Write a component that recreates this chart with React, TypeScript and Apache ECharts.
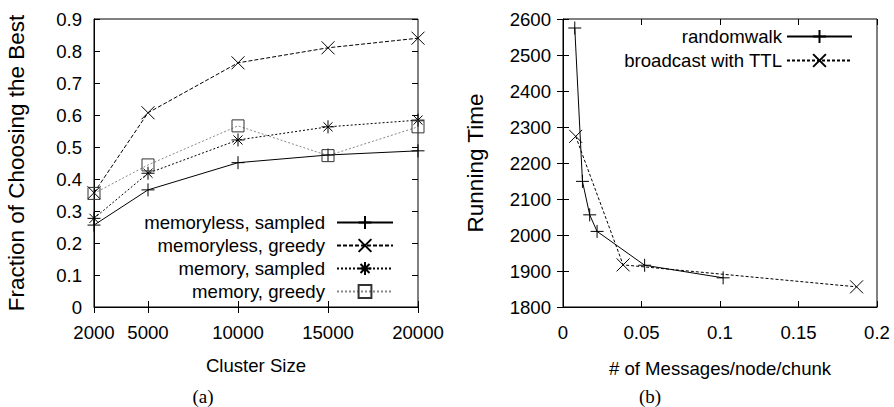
import React, { useEffect, useRef } from "react";
import * as echarts from "echarts";

// ---- data ----
const clusterSizes = [2000, 5000, 10000, 15000, 20000];
const memorylessSampled = [0.256, 0.366, 0.451, 0.475, 0.488];
const memorylessGreedy = [0.357, 0.607, 0.763, 0.81, 0.84];
const memorySampled = [0.277, 0.418, 0.522, 0.563, 0.584];
const memoryGreedy = [0.355, 0.444, 0.566, 0.473, 0.563];

const randomwalkX = [0.0075, 0.0124, 0.017, 0.0217, 0.052, 0.102];
const randomwalkY = [2575, 2149, 2056, 2010, 1916, 1881];
const broadcastX = [0.0081, 0.0383, 0.187];
const broadcastY = [2274, 1917, 1856];

const leftNames = ["memoryless, sampled", "memoryless, greedy", "memory, sampled", "memory, greedy"];
const rightNames = ["randomwalk", "broadcast with TTL"];

const SANS = '"Liberation Sans", Arial, sans-serif';
const SERIF = '"Liberation Serif", "DejaVu Serif", serif';
const FS = 18.6;

const PLUS = "path://M5,0L5,10M0,5L10,5";
const CROSS = "path://M0,0L10,10M10,0L0,10";
const STAR = "path://M5,0L5,10M0,5L10,5M1.5,1.5L8.5,8.5M8.5,1.5L1.5,8.5";
const SQUARE = "path://M0,0L10,0L10,10L0,10Z";

const zip = (xs: number[], ys: number[]) => xs.map((x, i) => [x, ys[i]]);

export default function App() {
  const ref = useRef<HTMLDivElement>(null);
  useEffect(() => {
    if (!ref.current) return;
    const chart = echarts.init(ref.current, undefined, { renderer: "svg" });
    const tickStyle = { inside: true, length: 6, lineStyle: { color: "#000", width: 1 } };
    const labelStyle = { color: "#000", fontFamily: SANS, fontSize: FS };
    const mk = (
      name: string,
      data: number[][],
      symbol: string,
      size: number,
      color: string,
      lineType: any,
      xi: number,
      yi: number,
      symColor = "#000"
    ) => ({
      name,
      type: "line",
      xAxisIndex: xi,
      yAxisIndex: yi,
      data,
      symbol,
      symbolSize: size,
      itemStyle: { color: "transparent", borderColor: symColor, borderWidth: 1 },
      lineStyle: { color, width: 1, type: lineType },
    });
    const fmt1 = (v: number) => (Math.abs(v) < 1e-9 ? "0" : v.toFixed(1));
    const fmt2 = (v: number) => String(parseFloat(v.toFixed(2)));
    chart.setOption({
      animation: false,
      grid: [
        { left: 94, top: 19, width: 324, height: 288, show: true, borderColor: "#000", borderWidth: 1 },
        { left: 563, top: 19, width: 314, height: 288, show: true, borderColor: "#000", borderWidth: 1 },
      ],
      xAxis: [
        {
          type: "value", gridIndex: 0, min: 2000, max: 20000, position: "bottom",
          axisLine: { show: true, lineStyle: { color: "#000" } },
          axisTick: { ...tickStyle, customValues: clusterSizes },
          axisLabel: { ...labelStyle, margin: 16, customValues: clusterSizes, formatter: (v: number) => String(v) },
          splitLine: { show: false },
          name: "Cluster Size", nameLocation: "middle", nameGap: 49,
          nameTextStyle: { color: "#000", fontFamily: SANS, fontSize: FS },
        },
        {
          type: "value", gridIndex: 0, min: 2000, max: 20000, position: "top",
          axisLine: { show: false }, axisLabel: { show: false },
          axisTick: { ...tickStyle, customValues: clusterSizes }, splitLine: { show: false },
        },
        {
          type: "value", gridIndex: 1, min: 0, max: 0.2, interval: 0.05, position: "bottom",
          axisLine: { show: true, lineStyle: { color: "#000" } },
          axisTick: tickStyle,
          axisLabel: { ...labelStyle, margin: 16, formatter: fmt2 },
          splitLine: { show: false },
          name: "# of Messages/node/chunk", nameLocation: "middle", nameGap: 52,
          nameTextStyle: { color: "#000", fontFamily: SANS, fontSize: FS },
        },
        {
          type: "value", gridIndex: 1, min: 0, max: 0.2, interval: 0.05, position: "top",
          axisLine: { show: false }, axisLabel: { show: false },
          axisTick: tickStyle, splitLine: { show: false },
        },
      ],
      yAxis: [
        {
          type: "value", gridIndex: 0, min: 0, max: 0.9, interval: 0.1, position: "left",
          axisLine: { show: true, lineStyle: { color: "#000" } },
          axisTick: tickStyle,
          axisLabel: { ...labelStyle, margin: 12, formatter: fmt1 },
          splitLine: { show: false },
          name: "Fraction of Choosing the Best", nameLocation: "middle", nameGap: 66, nameRotate: 90,
          nameTextStyle: { color: "#000", fontFamily: SANS, fontSize: 22.5 },
        },
        {
          type: "value", gridIndex: 0, min: 0, max: 0.9, interval: 0.1, position: "right",
          axisLine: { show: false }, axisLabel: { show: false },
          axisTick: tickStyle, splitLine: { show: false },
        },
        {
          type: "value", gridIndex: 1, min: 1800, max: 2600, interval: 100, position: "left",
          axisLine: { show: true, lineStyle: { color: "#000" } },
          axisTick: tickStyle,
          axisLabel: { ...labelStyle, margin: 12, formatter: (v: number) => String(v) },
          splitLine: { show: false },
          name: "Running Time", nameLocation: "middle", nameGap: 76, nameRotate: 90,
          nameTextStyle: { color: "#000", fontFamily: SANS, fontSize: 22.5 },
        },
        {
          type: "value", gridIndex: 1, min: 1800, max: 2600, interval: 100, position: "right",
          axisLine: { show: false }, axisLabel: { show: false },
          axisTick: tickStyle, splitLine: { show: false },
        },
      ],
      legend: [
        {
          data: leftNames, orient: "vertical", align: "right", right: 500, top: 212,
          padding: 0, itemWidth: 56, itemHeight: 16, itemGap: 2,
          textStyle: { color: "#000", fontFamily: SANS, fontSize: FS, lineHeight: 21, padding: [0, 7, 0, 0] },
        },
        {
          data: rightNames, orient: "vertical", align: "right", right: 41, top: 26,
          padding: 0, itemWidth: 65, itemHeight: 16, itemGap: 3,
          textStyle: { color: "#000", fontFamily: SANS, fontSize: FS, lineHeight: 21 },
        },
      ],
      graphic: [
        { type: "text", x: 203, y: 396, style: { text: "(a)", font: `19px ${SERIF}`, fill: "#000", align: "center", verticalAlign: "middle" } },
        { type: "text", x: 650, y: 396, style: { text: "(b)", font: `19px ${SERIF}`, fill: "#000", align: "center", verticalAlign: "middle" } },
      ],
      series: [
        mk(leftNames[0], zip(clusterSizes, memorylessSampled), PLUS, 13, "#000", "solid", 0, 0),
        mk(leftNames[1], zip(clusterSizes, memorylessGreedy), CROSS, 13, "#000", [4, 2], 0, 0),
        mk(leftNames[2], zip(clusterSizes, memorySampled), STAR, 13, "#000", [2, 2], 0, 0),
        mk(leftNames[3], zip(clusterSizes, memoryGreedy), SQUARE, 12, "#888", [2, 2], 0, 0, "#333"),
        mk(rightNames[0], zip(randomwalkX, randomwalkY), PLUS, 13, "#000", "solid", 2, 2),
        mk(rightNames[1], zip(broadcastX, broadcastY), CROSS, 13, "#000", [3, 2], 2, 2),
      ],
    });
    return () => chart.dispose();
  }, []);
  return <div ref={ref} style={{ position: "absolute", left: 0, top: 0, width: 894, height: 407 }} />;
}
